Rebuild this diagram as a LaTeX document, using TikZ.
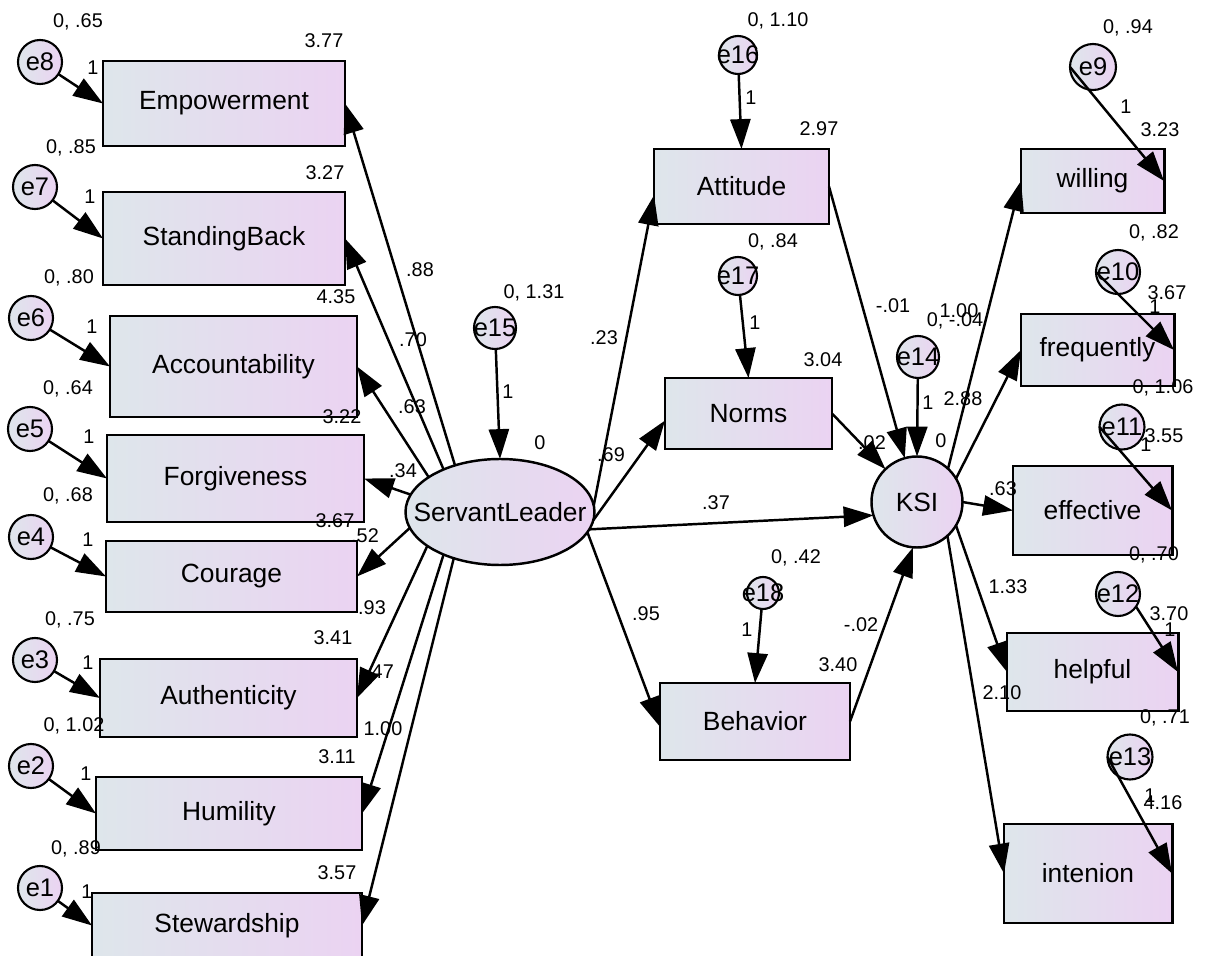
\documentclass[tikz,border=0pt]{standalone}
\usepackage{fontspec}
\setmainfont{Liberation Sans}
\usetikzlibrary{arrows.meta,shapes.geometric,calc}
\definecolor{boxL}{RGB}{222,230,235}
\definecolor{boxR}{RGB}{235,211,242}
\newcommand{\ez}[1]{\makebox[0pt]{#1}}
\begin{document}
\begin{tikzpicture}[x=0.02cm,y=-0.02cm,
 box/.style={draw, line width=1.7pt, left color=boxL, right color=boxR, inner sep=0pt, outer sep=0pt, font=\fontsize{15}{18}\selectfont},
 bx/.style 2 args={box, minimum width=#1*0.02cm, minimum height=#2*0.02cm},
 err/.style={circle, draw, line width=1.2pt, left color=boxL, right color=boxR, inner sep=0pt, outer sep=0pt, minimum size=#1*0.02cm, font=\fontsize{14.5}{17}\selectfont},
 arr/.style={line width=1.4pt, -{Triangle[length=17pt,width=11.5pt]}},
 num/.style={font=\fontsize{11.3}{13}\selectfont, inner sep=0pt}
]
\useasboundingbox (0,0) rectangle (1205,956);

% left indicator boxes
\node[bx={242}{85}] (Emp) at (224,103.5) {Empowerment};
\node[bx={242}{93}] (StB) at (224,238.5) {StandingBack};
\node[bx={247}{101}] (Acc) at (233.5,366.5) {Accountability};
\node[bx={257}{87}] (For) at (235.5,478.5) {Forgiveness};
\node[bx={251}{71}] (Cou) at (231.5,576.5) {Courage};
\node[bx={257}{78}] (Aut) at (228.5,698) {Authenticity};
\node[bx={266}{73}] (Hum) at (229,813.5) {Humility};
\node[bx={270}{65}] (Ste) at (227,925.5) {Stewardship};

% middle boxes
\node[bx={175}{75}] (Att) at (741.5,186.5) {Attitude};
\node[bx={167}{71}] (Nor) at (748.5,413.5) {Norms};
\node[bx={190}{77}] (Beh) at (755,721.5) {Behavior};

% right boxes
\node[bx={143}{64}] (wil) at (1092.5,181) {willing};
\node[bx={153}{72}] (fre) at (1097.5,350) {frequently};
\node[bx={159}{89}] (eff) at (1092.5,510.5) {effective};
\node[bx={171}{78}] (hel) at (1092.5,672) {helpful};
\node[bx={168}{99}] (int) at (1088,873.5) {intenion};

% latent variables
\node[box, ellipse, line width=1.4pt, minimum width=189*0.02cm, minimum height=106*0.02cm] (SL) at (500,512) {\ez{ServantLeader}};
\node[box, circle, line width=1.4pt, minimum size=91*0.02cm] (KSI) at (917,502) {\ez{KSI}};

% error terms
\node[err=44] (e8) at (40,62) {\ez{e8}};
\node[err=44] (e7) at (35,187) {\ez{e7}};
\node[err=44] (e6) at (31,318) {\ez{e6}};
\node[err=44] (e5) at (30,429) {\ez{e5}};
\node[err=44] (e4) at (31,537) {\ez{e4}};
\node[err=44] (e3) at (35,660) {\ez{e3}};
\node[err=44] (e2) at (31,766) {\ez{e2}};
\node[err=44] (e1) at (40,888) {\ez{e1}};
\node[err=42] (e15) at (495,328) {\ez{e15}};
\node[err=38] (e16) at (738,55) {\ez{e16}};
\node[err=38] (e17) at (738,276) {\ez{e17}};
\node[err=32] (e18) at (763,593) {\ez{e18}};
\node[err=42] (e14) at (918,357) {\ez{e14}};
\node[err=46] (e9) at (1093,67) {\ez{e9}};
\node[err=44] (e10) at (1118,272) {\ez{e10}};
\node[err=45] (e11) at (1122,427) {\ez{e11}};
\node[err=44] (e12) at (1118,594) {\ez{e12}};
\node[err=45] (e13) at (1130,757) {\ez{e13}};

% error arrows (left)
\draw[arr] (e8) -- (Emp.west);
\draw[arr] (e7) -- (StB.west);
\draw[arr] (e6) -- (Acc.west);
\draw[arr] (e5) -- (For.west);
\draw[arr] (e4) -- (Cou.west);
\draw[arr] (e3) -- (Aut.west);
\draw[arr] (e2) -- (Hum.west);
\draw[arr] (e1) -- (Ste.west);

% loadings of ServantLeader
\draw[arr] (SL.134.4) -- (Emp.east);
\draw[arr] (SL.143) -- (StB.east);
\draw[arr] (SL.154) -- (Acc.east);
\draw[arr] (SL.169.6) -- (For.east);
\draw[arr] (SL.190) -- (Cou.east);
\draw[arr] (SL.205) -- (Aut.east);
\draw[arr] (SL.217.8) -- (Hum.east);
\draw[arr] (SL.225) -- (Ste.east);

% structural paths
\draw[arr] (e15) -- (SL.north);
\draw[arr] (e16) -- (Att.north);
\draw[arr] (e17) -- (Nor.north);
\draw[arr] (e18) -- (Beh.north);
\draw[arr] (e14) -- (KSI.north);
\draw[arr] (SL.4) -- ([yshift=-5pt]Att.west);
\draw[arr] (SL.-5) -- ([yshift=-4pt]Nor.west);
\draw[arr] (SL.-11) -- (KSI.197);
\draw[arr] (SL.-13) -- ([yshift=-3pt]Beh.west);
\draw[arr] (Att.east) -- (KSI);
\draw[arr] (Nor.east) -- (KSI);
\draw[arr] (Beh.east) -- (KSI.-95);

% KSI indicators
\draw[arr] (KSI.47) -- (wil.west);
\draw[arr] (KSI.31) -- (fre.west);
\draw[arr] (KSI.east) -- (eff.west);
\draw[arr] (KSI.-31) -- (hel.west);
\draw[arr] (KSI.-48) -- (int.west);

% error arrows (right)
\draw[arr] (e9.west) -- (wil.east);
\draw[arr] (e10.west) -- (fre.east);
\draw[arr] (e11.west) -- (eff.east);
\draw[arr] (e12.-35) -- (hel.east);
\draw[arr] (e13.west) -- (int.east);

% labels left
\node[num] (l1) at (78,22) {0, .65};
\node[num] (l2) at (324,41) {3.77};
\node[num] (l3) at (93,68) {1};
\node[num] (l4) at (71,148) {0, .85};
\node[num] (l5) at (325,173) {3.27};
\node[num] (l6) at (90,197) {1};
\node[num] (l7) at (69,278) {0, .80};
\node[num] (l8) at (336,297) {4.35};
\node[num] (l9) at (420,270) {.88};
\node[num] (l10) at (92,327) {1};
\node[num] (l11) at (413,340) {.70};
\node[num] (l12) at (68,389) {0, .64};
\node[num] (l13) at (412,407) {.63};
\node[num] (l14) at (342,417) {3.22};
\node[num] (l15) at (89,437) {1};
\node[num] (l16) at (403,471) {.34};
\node[num] (l17) at (68,496) {0, .68};
\node[num] (l18) at (335,521) {3.67};
\node[num] (l19) at (365,536) {.52};
\node[num] (l20) at (88,540) {1};
\node[num] (l21) at (372,608) {.93};
\node[num] (l22) at (70,620) {0, .75};
\node[num] (l23) at (333,638) {3.41};
\node[num] (l24) at (88,663) {1};
\node[num] (l25) at (380,672) {.47};
\node[num] (l26) at (74,726) {0, 1.02};
\node[num] (l27) at (383,729) {1.00};
\node[num] (l28) at (337,757) {3.11};
\node[num] (l29) at (86,774) {1};
\node[num] (l30) at (76,849) {0, .89};
\node[num] (l31) at (337,873) {3.57};
\node[num] (l32) at (87,892) {1};

% labels middle
\node[num] (m1) at (534,293) {0, 1.31};
\node[num] (m2) at (508,392) {1};
\node[num] (m3) at (540,443) {0};
\node[num] (m4) at (778,21) {0, 1.10};
\node[num] (m5) at (751,98) {1};
\node[num] (m6) at (819,129) {2.97};
\node[num] (m7) at (773,242) {0, .84};
\node[num] (m8) at (755,323) {1};
\node[num] (m9) at (823,360) {3.04};
\node[num] (m10) at (604,338) {.23};
\node[num] (m11) at (611,455) {.69};
\node[num] (m12) at (716,503) {.37};
\node[num] (m13) at (796,558) {0, .42};
\node[num] (m14) at (646,614) {.95};
\node[num] (m15) at (747,630) {1};
\node[num] (m16) at (838,665) {3.40};
\node[num] (m17) at (861,625) {-.02};

% labels right
\node[num] (r1) at (893,306) {-.01};
\node[num] (r2) at (959,311) {1.00};
\node[num] (r3) at (955,321) {0, -.04};
\node[num] (r4) at (928,403) {1};
\node[num] (r5) at (963,399) {2.88};
\node[num] (r6) at (872,443) {.02};
\node[num] (r7) at (941,441) {0};
\node[num] (r8) at (1128,28) {0, .94};
\node[num] (r9) at (1126,107) {1};
\node[num] (r10) at (1160,130) {3.23};
\node[num] (r11) at (1154,233) {0, .82};
\node[num] (r12) at (1155,307) {1};
\node[num] (r13) at (1167,293) {3.67};
\node[num] (r14) at (1163,388) {0, 1.06};
\node[num] (r15) at (1146,445) {1};
\node[num] (r16) at (1164,436) {3.55};
\node[num] (r17) at (1003,489) {.63};
\node[num] (r18) at (1154,555) {0, .70};
\node[num] (r19) at (1008,587) {1.33};
\node[num] (r20) at (1170,630) {1};
\node[num] (r21) at (1169,614) {3.70};
\node[num] (r22) at (1002,693) {2.10};
\node[num] (r23) at (1165,718) {0, .71};
\node[num] (r24) at (1150,796) {1};
\node[num] (r25) at (1163,803) {4.16};
\end{tikzpicture}
\end{document}
